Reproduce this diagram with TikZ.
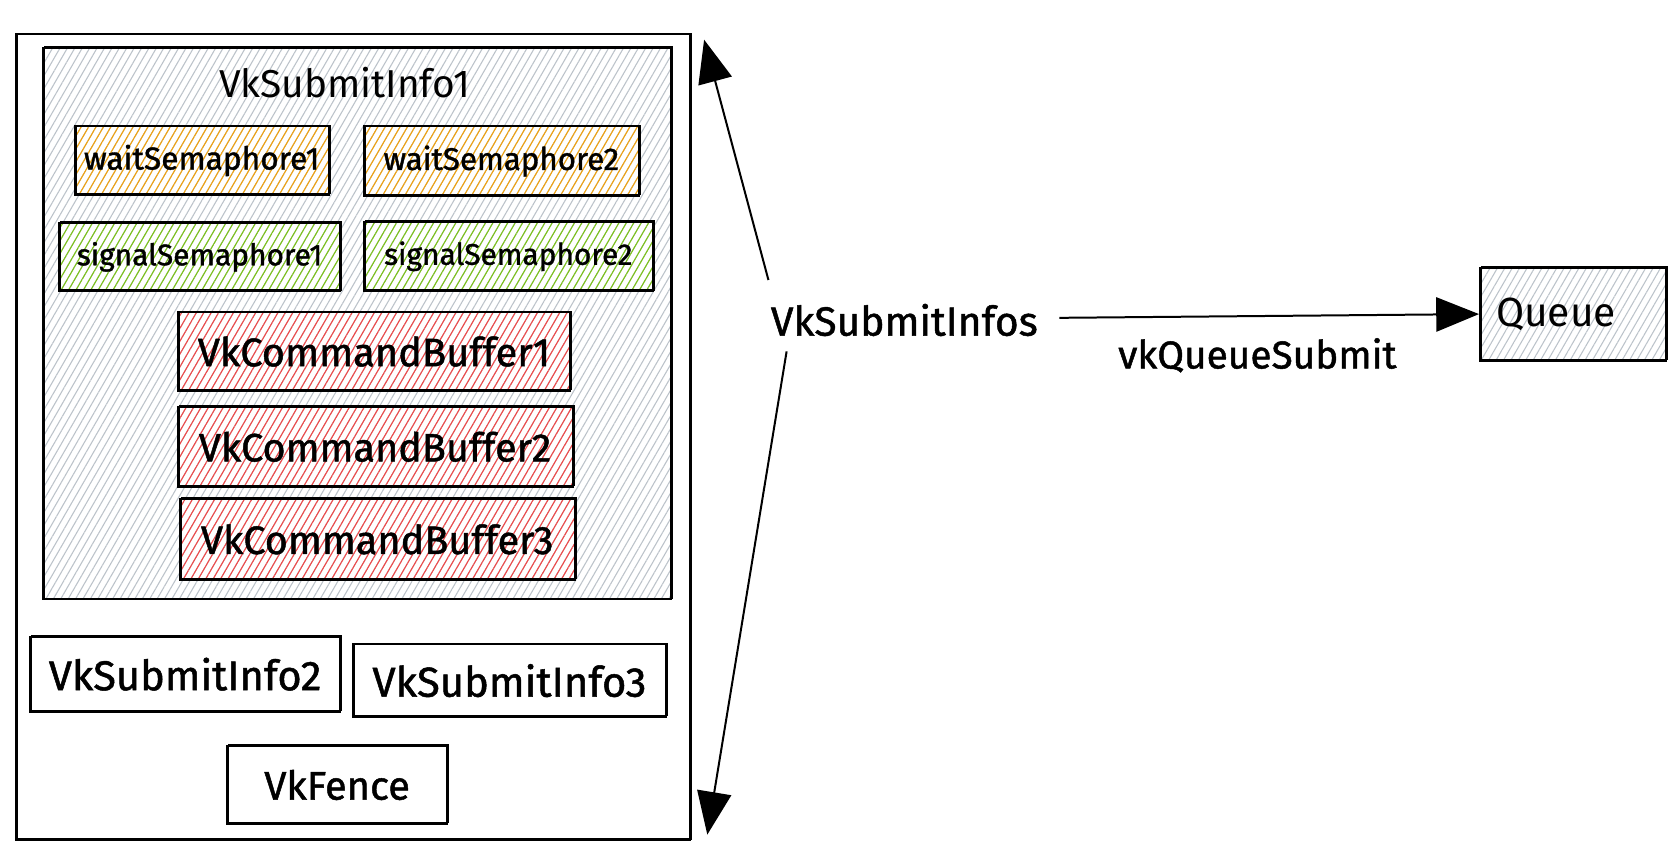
\documentclass[tikz,border=0pt]{standalone}
\usepackage{fontspec}
\setmainfont{Fira Sans}
\newfontfamily\med{Fira Sans}[FakeBold=1.2]
\usetikzlibrary{patterns.meta,arrows.meta}
\definecolor{hgrey}{HTML}{BCC3CA}
\definecolor{horange}{HTML}{F2A20C}
\definecolor{hgreen}{HTML}{7CC417}
\definecolor{hred}{HTML}{F24848}
\newcommand{\fitw}[2]{\resizebox{#1}{!}{#2}}
\begin{document}
\begin{tikzpicture}[x=0.75pt,y=-0.75pt,
  box/.style={draw=black,line width=1.4pt,rectangle,inner sep=0pt,
    postaction={draw=black,line width=0.8pt,transform canvas={shift={(1pt,0.8pt)}}}},
  sz/.style 2 args={minimum width=#1*0.75pt,minimum height=#2*0.75pt},
  hatch/.style={pattern={Lines[angle=60,distance=4.5pt,line width=0.75pt]},pattern color=#1},
  lbl/.style={inner sep=0pt},
  arr/.style={-{Triangle[length=30pt,width=24pt]},line width=1.4pt}]
\useasboundingbox (0,0) rectangle (1568,802);
% outer container
\node[box,fill=white,sz={630}{753}] (outer) at (330,408.5) {};
\node[box,hatch=hgrey,sz={587}{515}] (info1) at (333.5,302.5) {};
\node[lbl] (t1) at (322,77) {\fitw{176pt}{VkSubmitInfo1}};
% semaphores
\node[box,hatch=horange,sz={237}{64}] (ws1) at (188.5,150) {\fitw{165pt}{\med waitSemaphore1}};
\node[box,hatch=horange,sz={257}{65}] (ws2) at (468.5,150.5) {\fitw{165pt}{\med waitSemaphore2}};
\node[box,hatch=hgreen,sz={263}{64}] (ss1) at (186.5,240) {\fitw{172pt}{\med signalSemaphore1}};
\node[box,hatch=hgreen,sz={270}{65}] (ss2) at (475,239.5) {\fitw{174pt}{\med signalSemaphore2}};
% command buffers
\node[box,hatch=hred,sz={367}{73}] (cb1) at (349.5,328.5) {\fitw{247pt}{\med VkCommandBuffer1}};
\node[box,hatch=hred,sz={369}{75}] (cb2) at (350.5,417.5) {\fitw{247pt}{\med VkCommandBuffer2}};
\node[box,hatch=hred,sz={369}{76}] (cb3) at (352.5,504) {\fitw{247pt}{\med VkCommandBuffer3}};
% other submit infos and fence
\node[box,fill=white,sz={290}{70}] (si2) at (173,630) {\fitw{191pt}{\med VkSubmitInfo2}};
\node[box,fill=white,sz={292}{68}] (si3) at (476,636) {\fitw{192pt}{\med VkSubmitInfo3}};
\node[box,fill=white,sz={206}{73}] (fence) at (315,733.5) {\fitw{102pt}{\med VkFence}};
% right side
\node[lbl] (infos) at (845,299) {\fitw{187pt}{\med VkSubmitInfos}};
\node[box,hatch=hgrey,sz={174}{87},
  label={[lbl,xshift=-12pt]center:{\fitw{84pt}{Queue}}}] (queue) at (1470,293.5) {};
\node[lbl] (qs) at (1175,332) {\fitw{195pt}{\med vkQueueSubmit}};
% connectors
\draw[arr] ([shift={(-2,-22)}]infos.north west) -- ([shift={(12,6)}]outer.north east);
\draw[arr] ([shift={(15,14)}]infos.south west) -- ([shift={(15,-6)}]outer.south east);
\draw[arr] ([shift={(20,-2)}]infos.east) -- (queue.west);
\end{tikzpicture}
\end{document}
